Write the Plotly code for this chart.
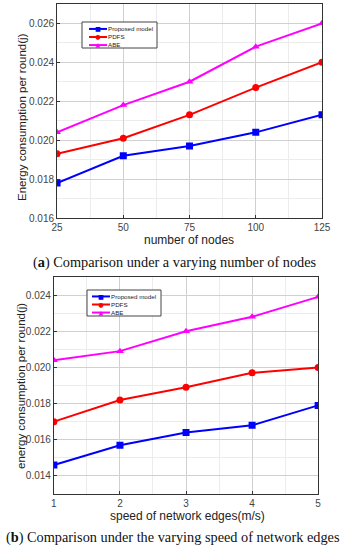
import plotly.graph_objects as go

# Chart (a)
nodes = [25, 50, 75, 100, 125]
a_proposed = [0.0178, 0.0192, 0.0197, 0.0204, 0.0213]
a_pdfs = [0.0193, 0.0201, 0.0213, 0.0227, 0.0240]
a_abe = [0.0204, 0.0218, 0.0230, 0.0248, 0.0260]

# Chart (b)
speeds = [1, 2, 3, 4, 5]
b_proposed = [0.0146, 0.0157, 0.0164, 0.0168, 0.0179]
b_pdfs = [0.0170, 0.0182, 0.0189, 0.0197, 0.0200]
b_abe = [0.0204, 0.0209, 0.0220, 0.0228, 0.0239]

series_names = ["Proposed model", "PDFS", "ABE"]
colors = ["#0000ff", "#ff0000", "#ff00ff"]
symbols = ["square", "circle", "triangle-up"]
glyphs = ["■", "●", "▲"]

W, H = 350, 550

fig = go.Figure()
for name, ys, c, s in zip(series_names, [a_proposed, a_pdfs, a_abe], colors, symbols):
    fig.add_trace(go.Scatter(x=nodes, y=ys, name=name, mode="lines+markers",
                             line=dict(color=c, width=2), marker=dict(symbol=s, size=7, color=c),
                             xaxis="x", yaxis="y", showlegend=False))
for name, ys, c, s in zip(series_names, [b_proposed, b_pdfs, b_abe], colors, symbols):
    fig.add_trace(go.Scatter(x=speeds, y=ys, name=name, mode="lines+markers",
                             line=dict(color=c, width=2), marker=dict(symbol=s, size=7, color=c),
                             xaxis="x2", yaxis="y2", showlegend=False))

axis_common = dict(showline=True, linecolor="#333333", linewidth=1, mirror=True,
                   showgrid=True, gridcolor="#d0d0d0", gridwidth=1, zeroline=False,
                   ticks="inside", ticklen=3, tickcolor="#333333", automargin=False,
                   tickfont=dict(family="Liberation Sans, Arial", size=10, color="#444444"))

shapes = []
annotations = []


def px(x):
    return x / W


def py(y):
    return 1 - y / H


def add_legend(box, y_mid, line_x0, line_x1, text_x, fsize):
    x0, y0, x1, y1 = box
    shapes.append(dict(type="rect", xref="paper", yref="paper", x0=px(x0), x1=px(x1), y0=py(y1), y1=py(y0),
                       line=dict(color="#444444", width=1), fillcolor="white", layer="above"))
    step = fsize * 1.3
    for i, c in enumerate(colors):
        yy = y_mid + (i - 1) * step
        shapes.append(dict(type="line", xref="paper", yref="paper", x0=px(line_x0), x1=px(line_x1),
                           y0=py(yy), y1=py(yy), line=dict(color=c, width=2), layer="above"))
    glyph_text = "<br>".join(f"<span style='color:{c}'>{g}</span>" for c, g in zip(colors, glyphs))
    annotations.append(dict(text=glyph_text, x=px((line_x0 + line_x1) / 2), y=py(y_mid), xref="paper",
                            yref="paper", showarrow=False, xanchor="center", yanchor="middle", borderpad=0,
                            font=dict(family="DejaVu Sans", size=fsize)))
    annotations.append(dict(text="<br>".join(series_names), x=px(text_x), y=py(y_mid), xref="paper",
                            yref="paper", showarrow=False, xanchor="left", yanchor="middle", align="left",
                            borderpad=0, font=dict(family="Liberation Sans, Arial", size=fsize, color="#222222")))


def add_text(text, x, y, size, family="Liberation Sans, Arial", angle=0, color="#222222"):
    annotations.append(dict(text=text, x=px(x), y=py(y), xref="paper", yref="paper", showarrow=False,
                            xanchor="center", yanchor="middle", textangle=angle, borderpad=0,
                            font=dict(family=family, size=size, color=color)))


add_legend((82, 22, 157, 48), 37, 89, 107, 107, 6.2)
add_legend((87, 290, 161, 316), 304.5, 92, 110, 110, 6.2)

# axis titles
add_text("number of nodes", 189, 240, 12)
add_text("Energy consumption per round(j)", 22, 117, 11.5, angle=-90)
add_text("speed of network edges(m/s)", 187, 516, 12)
add_text("energy consumption per round(j)", 21, 386, 11.5, angle=-90)

# captions
add_text("(<b>a</b>) Comparison under a varying number of nodes", 175, 262, 14.3,
         family="Liberation Serif, Times New Roman", color="#111111")
add_text("(<b>b</b>) Comparison under the varying speed of network edges", 173, 537, 14.3,
         family="Liberation Serif, Times New Roman", color="#111111")

fig.update_layout(
    width=W, height=H,
    margin=dict(l=0, r=0, t=0, b=0, autoexpand=False),
    paper_bgcolor="white", plot_bgcolor="white",
    xaxis=dict(domain=[0.163, 0.92], range=[25, 125], dtick=25, tick0=25, anchor="y",
               minor=dict(showgrid=True, dtick=12.5, gridcolor="#ececec", ticks=""), **axis_common),
    yaxis=dict(domain=[0.6036, 0.993], range=[0.016, 0.027], dtick=0.002, tick0=0.016, tickformat=".3f",
               anchor="x", minor=dict(showgrid=True, dtick=0.001, gridcolor="#ececec", ticks=""), **axis_common),
    xaxis2=dict(domain=[0.154, 0.909], range=[1, 5], dtick=1, tick0=1, anchor="y2",
                minor=dict(showgrid=True, dtick=0.5, gridcolor="#ececec", ticks=""), **axis_common),
    yaxis2=dict(domain=[0.1018, 0.4964], range=[0.013, 0.025], dtick=0.002, tick0=0.014, tickformat=".3f",
                anchor="x2", minor=dict(showgrid=True, dtick=0.001, gridcolor="#ececec", ticks=""), **axis_common),
    shapes=shapes,
    annotations=annotations,
)

fig.write_html("out.html", config={"displayModeBar": False},
               post_script="document.body.style.margin='0';document.body.style.padding='0';")
